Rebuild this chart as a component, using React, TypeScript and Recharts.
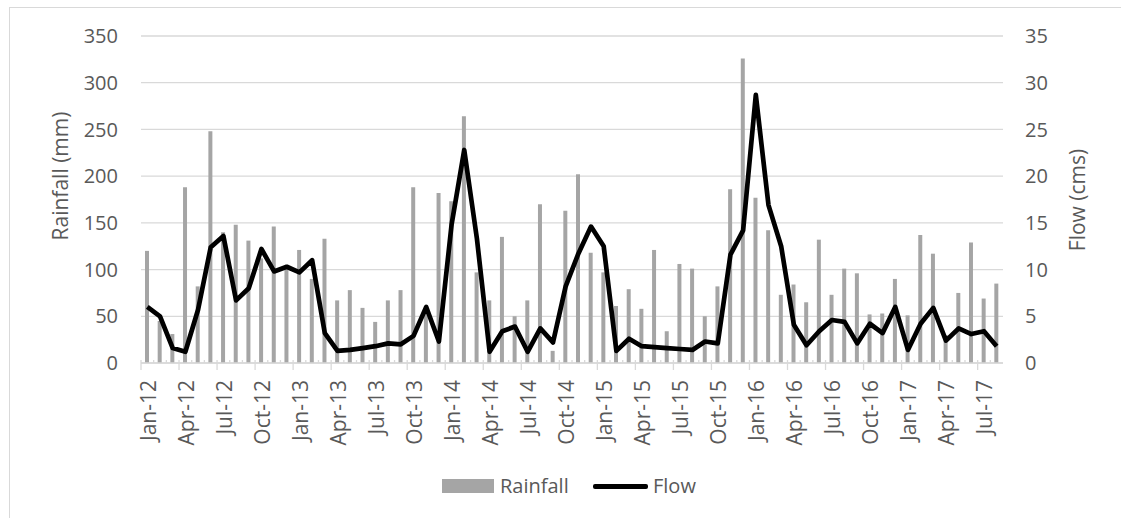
import React from 'react';
import { ComposedChart, Bar, Line, XAxis, YAxis, CartesianGrid } from 'recharts';

// monthly labels, Jan-12 .. Aug-17
const months = [
  'Jan-12', 'Feb-12', 'Mar-12', 'Apr-12', 'May-12', 'Jun-12', 'Jul-12', 'Aug-12', 'Sep-12', 'Oct-12', 'Nov-12', 'Dec-12',
  'Jan-13', 'Feb-13', 'Mar-13', 'Apr-13', 'May-13', 'Jun-13', 'Jul-13', 'Aug-13', 'Sep-13', 'Oct-13', 'Nov-13', 'Dec-13',
  'Jan-14', 'Feb-14', 'Mar-14', 'Apr-14', 'May-14', 'Jun-14', 'Jul-14', 'Aug-14', 'Sep-14', 'Oct-14', 'Nov-14', 'Dec-14',
  'Jan-15', 'Feb-15', 'Mar-15', 'Apr-15', 'May-15', 'Jun-15', 'Jul-15', 'Aug-15', 'Sep-15', 'Oct-15', 'Nov-15', 'Dec-15',
  'Jan-16', 'Feb-16', 'Mar-16', 'Apr-16', 'May-16', 'Jun-16', 'Jul-16', 'Aug-16', 'Sep-16', 'Oct-16', 'Nov-16', 'Dec-16',
  'Jan-17', 'Feb-17', 'Mar-17', 'Apr-17', 'May-17', 'Jun-17', 'Jul-17', 'Aug-17',
];

// rainfall in mm
const rainfall = [
  120, 45, 31, 188, 82, 248, 140, 148, 131, 112, 146, 105,
  121, 90, 133, 67, 78, 59, 44, 67, 78, 188, 55, 182,
  173, 264, 97, 67, 135, 50, 67, 170, 13, 163, 202, 118,
  97, 61, 79, 58, 121, 34, 106, 101, 50, 82, 186, 326,
  177, 142, 73, 84, 65, 132, 73, 101, 96, 52, 53, 90,
  51, 137, 117, 30, 75, 129, 69, 85,
];

// flow in cms
const flow = [
  6.0, 5.0, 1.6, 1.2, 5.7, 12.4, 13.6, 6.7, 8.0, 12.2, 9.8, 10.3,
  9.7, 11.0, 3.2, 1.3, 1.4, 1.6, 1.8, 2.1, 2.0, 2.9, 6.0, 2.3,
  14.8, 22.8, 13.3, 1.2, 3.4, 3.9, 1.2, 3.7, 2.2, 8.2, 11.7, 14.6,
  12.5, 1.3, 2.6, 1.8, 1.7, 1.6, 1.5, 1.4, 2.3, 2.1, 11.6, 14.2,
  28.7, 16.9, 12.5, 4.1, 1.9, 3.4, 4.6, 4.4, 2.1, 4.2, 3.2, 6.0,
  1.4, 4.2, 5.9, 2.4, 3.7, 3.1, 3.4, 1.8,
];

const rainTicks = [0, 50, 100, 150, 200, 250, 300, 350];
const flowTicks = [0, 5, 10, 15, 20, 25, 30, 35];

const data = months.map((m, i) => ({ month: m, rainfall: rainfall[i], flow: flow[i] }));

const W = 1121;
const H = 518;
const LEFT_W = 141;
const RIGHT_W = 118;
const TOP = 36;
const X_H = 155;
const BAND = (W - LEFT_W - RIGHT_W) / months.length;

const GRID = '#d9d9d9';
const TEXT = '#595959';
const FONT = '"Open Sans", sans-serif';

const MonthTick = (props: any) => {
  const { x, y, payload } = props;
  const i = props.index ?? payload.index;
  const edge = x - BAND / 2;
  const major = i % 3 === 0;
  return (
    <g>
      <line x1={edge} x2={edge} y1={y - 3} y2={y} stroke={GRID} strokeWidth={1.3} />
      {major && <line x1={edge} x2={edge} y1={y} y2={y + 7} stroke={GRID} strokeWidth={1.3} />}
      {major && (
        <text
          x={x + 0.5}
          y={y + 17}
          transform={`rotate(-90 ${x + 0.5} ${y + 17})`}
          textAnchor="end"
          dominantBaseline="central"
          fill={TEXT}
          fontSize={21}
          fontFamily={FONT}
        >
          {payload.value}
        </text>
      )}
    </g>
  );
};

export default function App() {
  return (
    <div style={{ position: 'absolute', left: 0, top: 0, width: W, height: H, overflow: 'hidden', background: '#fff', fontFamily: FONT }}>
      <div style={{ position: 'absolute', left: 8.5, top: 6.5, width: W + 20, height: H + 20, borderLeft: `1px solid ${GRID}`, borderTop: `1px solid ${GRID}` }} />
      <div style={{ position: 'absolute', left: 0, top: 0 }}>
        <ComposedChart width={W} height={H} data={data} margin={{ top: TOP, right: 0, left: 0, bottom: 0 }}>
          <CartesianGrid yAxisId="left" vertical={false} stroke={GRID} strokeWidth={1.3} />
          <XAxis
            dataKey="month"
            height={X_H}
            interval={0}
            tickSize={0}
            tickMargin={0}
            tickLine={false}
            axisLine={{ stroke: GRID, strokeWidth: 1.3 }}
            tick={<MonthTick />}
          />
          <YAxis
            yAxisId="left"
            width={LEFT_W}
            domain={[0, 350]}
            ticks={rainTicks}
            axisLine={false}
            tickLine={false}
            tickSize={0}
            tickMargin={23}
            tick={{ fill: TEXT, fontSize: 20, fontFamily: FONT }}
            label={{
              content: () => (
                <text x={60} y={176} transform="rotate(-90 60 176)" textAnchor="middle" dominantBaseline="central" fill={TEXT} fontSize={21} fontFamily={FONT}>
                  Rainfall (mm)
                </text>
              ),
            }}
          />
          <YAxis
            yAxisId="right"
            orientation="right"
            width={RIGHT_W}
            domain={[0, 35]}
            ticks={flowTicks}
            axisLine={false}
            tickLine={false}
            tickSize={0}
            tickMargin={22}
            tick={{ fill: TEXT, fontSize: 20, fontFamily: FONT, textAnchor: 'start' }}
            label={{
              content: () => (
                <text x={1077} y={200} transform="rotate(-90 1077 200)" textAnchor="middle" dominantBaseline="central" fill={TEXT} fontSize={21} fontFamily={FONT}>
                  Flow (cms)
                </text>
              ),
            }}
          />
          <Bar yAxisId="left" dataKey="rainfall" name="Rainfall" fill="#a5a5a5" barSize={4} isAnimationActive={false} />
          <Line
            yAxisId="right"
            type="linear"
            dataKey="flow"
            name="Flow"
            stroke="#000"
            strokeWidth={4.7}
            strokeLinejoin="round"
            dot={false}
            activeDot={false}
            isAnimationActive={false}
          />
        </ComposedChart>
      </div>
      <div style={{ position: 'absolute', left: 442, top: 479, width: 52, height: 14, background: '#a5a5a5' }} />
      <div style={{ position: 'absolute', left: 500, top: 486, transform: 'translateY(-50%)', color: TEXT, fontSize: 20, lineHeight: 1 }}>Rainfall</div>
      <div style={{ position: 'absolute', left: 593, top: 484, width: 55, height: 4.5, background: '#000', borderRadius: 2 }} />
      <div style={{ position: 'absolute', left: 653, top: 486, transform: 'translateY(-50%)', color: TEXT, fontSize: 20, lineHeight: 1 }}>Flow</div>
    </div>
  );
}
